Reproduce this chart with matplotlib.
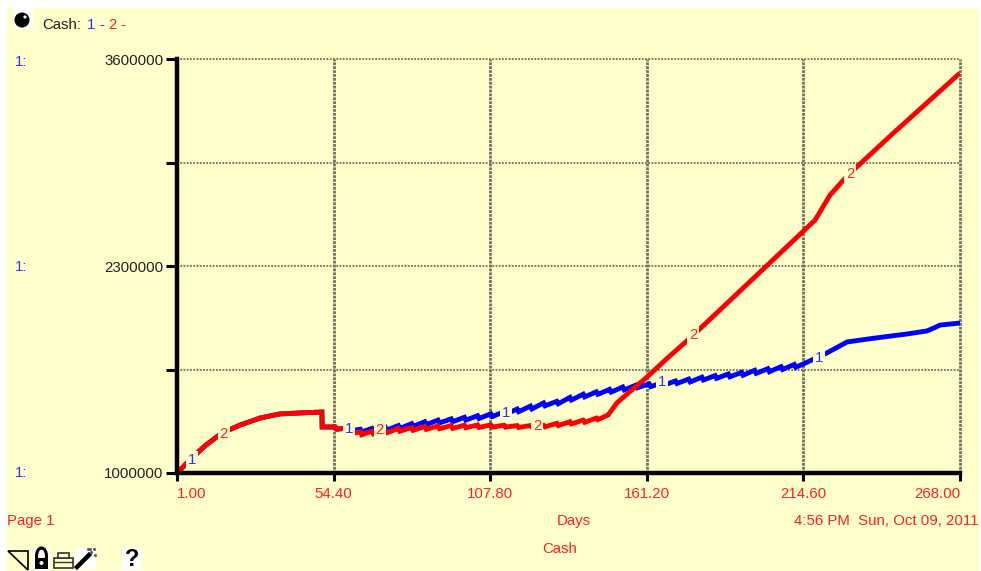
import matplotlib
matplotlib.use("Agg")
import matplotlib.pyplot as plt
from matplotlib.patches import Rectangle, Circle, Polygon, Arc

plt.rcParams["font.family"] = ["Liberation Sans", "DejaVu Sans"]

W, H = 981, 571
YELLOW = "#ffffcc"
RED = "#ff2020"
BLUE = "#3030ff"
FS = 10.8

x_ticks = [1.0, 54.4, 107.8, 161.2, 214.6, 268.0]
x_tick_labels = ["1.00", "54.40", "107.80", "161.20", "214.60", "268.00"]
y_ticks = [1000000, 1650000, 2300000, 2950000, 3600000]
y_tick_labels = ["1000000", "", "2300000", "", "3600000"]

start_days = [1, 5.4, 10.5, 16.3, 22.5, 29.3, 36.1, 43, 50.4, 50.5, 55, 55.5, 59, 59.5]
start_cash = [1.000, 1.082, 1.170, 1.251, 1.301, 1.345, 1.371, 1.377, 1.383, 1.289,
              1.289, 1.275, 1.282, 1.262]

blue_days = start_days + [
    63.5, 64, 67.5, 68, 72, 72.5, 76.5, 77, 81, 81.5, 85.5, 86, 90, 90.5, 94.5, 95,
    99, 99.5, 103.5, 104, 108, 108.5, 112.5, 113, 117, 117.5, 121.5, 122, 126, 126.5,
    130.5, 131, 135, 135.5, 139.5, 140, 144, 144.5, 148.5, 149, 153, 153.5, 157.5, 158,
    162, 162.5, 166.5, 167, 171, 171.5, 175.5, 176, 180, 180.5, 184.5, 185, 189, 189.5,
    193.5, 194, 198, 198.5, 202.5, 203, 207, 207.5, 211.5, 212, 216,
    222.6, 229.5, 238, 249.9, 256.7, 259, 261.2, 268]
blue_cash = start_cash + [
    1.275, 1.258, 1.280, 1.262, 1.288, 1.270, 1.298, 1.280, 1.310, 1.292, 1.322, 1.304,
    1.332, 1.314, 1.340, 1.322, 1.350, 1.332, 1.360, 1.342, 1.372, 1.354, 1.385, 1.368,
    1.402, 1.385, 1.420, 1.402, 1.440, 1.422, 1.450, 1.435, 1.475, 1.458, 1.495, 1.478,
    1.510, 1.494, 1.525, 1.508, 1.540, 1.522, 1.552, 1.535, 1.560, 1.542, 1.568, 1.552,
    1.578, 1.562, 1.590, 1.572, 1.602, 1.584, 1.612, 1.594, 1.622, 1.604, 1.632, 1.614,
    1.645, 1.626, 1.655, 1.636, 1.668, 1.650, 1.682, 1.664, 1.697,
    1.754, 1.823, 1.845, 1.873, 1.892, 1.910, 1.929, 1.942]

red_days = start_days + [
    60, 63.5, 64, 67.5, 68, 72, 72.5, 76.5, 77, 81, 81.5, 85.5, 86, 90, 90.5, 94.5, 95,
    99, 99.5, 103.5, 104, 108, 108.5, 112.5, 113, 117, 117.5, 121.5, 122, 126, 126.5,
    130.5, 131, 135, 135.5, 139.5, 140, 144, 144.5, 148,
    151, 156, 161.3, 168, 176, 195, 215, 218.6, 223.7, 229.8, 245, 268]
red_cash = start_cash + [
    1.245, 1.258, 1.240, 1.262, 1.245, 1.270, 1.252, 1.280, 1.262, 1.285, 1.268, 1.292,
    1.274, 1.296, 1.278, 1.298, 1.280, 1.300, 1.284, 1.302, 1.286, 1.302, 1.288, 1.300,
    1.288, 1.298, 1.286, 1.298, 1.288, 1.300, 1.290, 1.312, 1.298, 1.322, 1.308, 1.332,
    1.318, 1.345, 1.335, 1.364,
    1.440, 1.520, 1.603, 1.718, 1.848, 2.178, 2.526, 2.589, 2.746, 2.871, 3.130, 3.512]

blue_cash = [v * 1e6 for v in blue_cash]
red_cash = [v * 1e6 for v in red_cash]

# line number markers sitting on the curves
marker_days_1 = [6.1, 59.7, 113.2, 166.4, 219.9]
marker_cash_1 = [1082000, 1276000, 1377000, 1571000, 1722000]
marker_days_2 = [17, 70.2, 123.8, 177, 230.5]
marker_cash_2 = [1245000, 1270000, 1295000, 1867000, 2878000]

fig = plt.figure(figsize=(W / 100, H / 100), dpi=100, facecolor="white")

# page layer in pixel coordinates
page = fig.add_axes([0, 0, 1, 1], zorder=0)
page.set_xlim(0, W)
page.set_ylim(H, 0)
page.axis("off")
page.add_patch(Rectangle((7, 8), 972, 563, fc=YELLOW, ec="none"))

ax = fig.add_axes([177 / W, 1 - 473 / H, 783 / W, 414 / H], zorder=1)
ax.patch.set_alpha(0)
ax.set_xlim(1, 268)
ax.set_ylim(1000000, 3600000)
for side in ["top", "right"]:
    ax.spines[side].set_visible(False)
for side in ["left", "bottom"]:
    ax.spines[side].set_linewidth(3.2)
    ax.spines[side].set_zorder(6)

ax.set_xticks(x_ticks)
ax.set_xticklabels(x_tick_labels, color=RED, fontsize=FS)
ax.set_yticks(y_ticks)
ax.set_yticklabels(y_tick_labels, color="#222222", fontsize=FS)
ax.tick_params(axis="x", length=6, width=2.2, pad=4)
ax.tick_params(axis="y", length=8, width=2.2, pad=2)
tick_text = ax.get_xticklabels()
tick_text[0].set_ha("left")
tick_text[-1].set_ha("right")

ax.xaxis.grid(True, color="#70705c", lw=2.0, ls=(0, (1, 0.4)), clip_on=False)
ax.yaxis.grid(True, color="#70705c", lw=1.3, ls=(0, (1, 0.8)), clip_on=False)
ax.set_axisbelow(True)

ax.plot(blue_days, blue_cash, color="#0000ff", lw=3.5, solid_joinstyle="miter", solid_capstyle="butt", zorder=3)
ax.plot(red_days, red_cash, color="#ff0000", lw=3.5, solid_joinstyle="miter", solid_capstyle="butt", zorder=4)

box = dict(fc=YELLOW, ec="none", pad=1.5)
for d, c in zip(marker_days_1, marker_cash_1):
    ax.text(d, c, "1", color=BLUE, fontsize=FS, ha="center", va="center", bbox=box, zorder=5)
for d, c in zip(marker_days_2, marker_cash_2):
    ax.text(d, c, "2", color=RED, fontsize=FS, ha="center", va="center", bbox=box, zorder=5)

# header legend
page.text(42, 25, "Cash:", color="#222222", fontsize=FS, va="center")
page.text(87, 25, "1", color=BLUE, fontsize=FS, va="center")
page.text(99, 25, "-", color=BLUE, fontsize=FS, va="center")
page.text(108, 25, "2", color=RED, fontsize=FS, va="center")
page.text(120, 25, "-", color=RED, fontsize=FS, va="center")

for y in [62, 267, 473]:
    page.text(15, y, "1:", color=BLUE, fontsize=FS, va="center")

page.text(7, 521, "Page 1", color=RED, fontsize=FS, va="center")
page.text(574, 521, "Days", color=RED, fontsize=FS, ha="center", va="center")
page.text(978, 521, "4:56 PM  Sun, Oct 09, 2011", color=RED, fontsize=FS, ha="right", va="center")
page.text(560, 549, "Cash", color=RED, fontsize=FS, ha="center", va="center")

# toolbar icons
page.add_patch(Rectangle((14, 8), 19, 20, fc="white", ec="none"))
page.add_patch(Circle((22, 20), 7.5, fc="black", ec="none"))
page.add_patch(Circle((25, 17), 1.6, fc="white", ec="none"))
page.add_patch(Polygon([(8, 551), (28, 570), (28, 551)], closed=True, fc=YELLOW, ec="black", lw=1.2))
page.add_patch(Rectangle((33, 548), 17, 23, fc="white", ec="none"))
page.add_patch(Arc((41.5, 556), 10, 16, theta1=180, theta2=360, ec="black", lw=2.2))
page.add_patch(Arc((41.5, 556), 10, 16, theta1=180, theta2=360, ec="black", lw=2.2, angle=180))
page.add_patch(Rectangle((35, 558), 13, 11, fc="black", ec="none"))
page.add_patch(Circle((41.5, 563), 2, fc="white", ec="none"))
page.add_patch(Rectangle((54, 558), 19, 10, fc=YELLOW, ec="#333333", lw=1.2))
page.add_patch(Rectangle((58, 553), 11, 5, fc=YELLOW, ec="#333333", lw=1.2))
page.plot([55, 72], [562, 562], color="#333333", lw=1)
page.add_patch(Rectangle((75, 548), 21, 21, fc="white", ec="none"))
page.plot([77, 89], [567, 555], color="black", lw=3.2)
page.plot([91, 94, 90, 95, 88], [552, 549, 549, 555, 549], color="#555555", lw=0, marker="s", ms=1)
page.add_patch(Rectangle((122, 548), 20, 22, fc="white", ec="none"))
page.text(132, 559, "?", color="black", fontsize=17, fontweight="bold", ha="center", va="center")

fig.savefig("out.png", dpi=100)
